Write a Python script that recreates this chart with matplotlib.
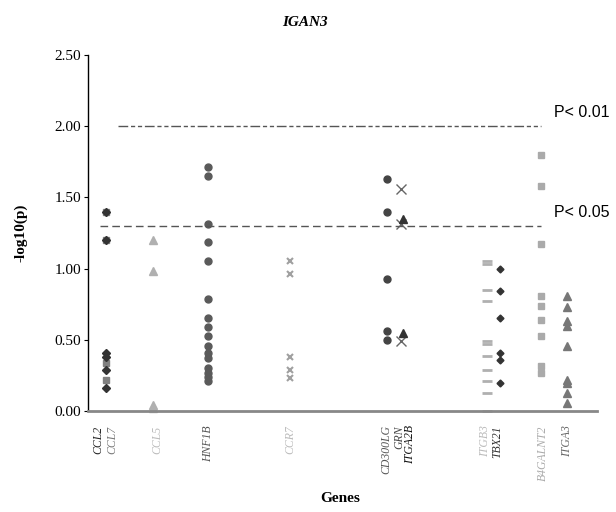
import matplotlib
matplotlib.use('Agg')
import matplotlib.pyplot as plt

# Gene labels along the x axis and their colours
genes = ['CCL2', 'CCL7', 'CCL5', 'HNF1B', 'CCR7', 'CD300LG', 'GRN', 'ITGA2B',
         'ITGB3', 'TBX21', 'B4GALNT2', 'ITGA3']
gene_colors = ['#222222', '#777777', '#bbbbbb', '#555555', '#bbbbbb', '#555555',
               '#444444', '#111111', '#bbbbbb', '#333333', '#aaaaaa', '#666666']

# -log10(p) values
ccl2 = [1.40, 1.20, 0.41, 0.38, 0.29, 0.16]
ccl7 = [1.40, 1.20, 0.34, 0.22]
ccl5 = [1.20, 0.98, 0.04, 0.02]
hnf1b = [1.71, 1.65, 1.31, 1.19, 1.05, 0.79, 0.65, 0.59, 0.53, 0.46, 0.41,
         0.37, 0.30, 0.27, 0.24, 0.21]
ccr7 = [1.05, 0.96, 0.38, 0.29, 0.23]
cd300lg = [1.63, 1.40, 0.93, 0.56, 0.50]
grn = [1.56, 1.31, 0.49]
itga2b = [1.35, 0.55]
itgb3 = [1.05, 1.03, 0.85, 0.77, 0.49, 0.47, 0.39, 0.29, 0.21, 0.13, 0.00]
tbx21 = [1.00, 0.84, 0.65, 0.41, 0.36, 0.20]
b4galnt2 = [1.80, 1.58, 1.17, 0.81, 0.74, 0.64, 0.53, 0.32, 0.27]
itga3 = [0.81, 0.73, 0.63, 0.60, 0.46, 0.22, 0.20, 0.13, 0.06]

# positions (axis units, 0 = left spine)
label_x = [10, 24, 69, 120, 202, 298, 311, 322, 397, 409, 455, 479]

fig = plt.figure(figsize=(6.16, 5.12), dpi=100)
ax = fig.add_axes([0.1429, 0.197, 0.826, 0.696])

def pts(x, vals, **kw):
    ax.plot([x] * len(vals), vals, linestyle='none', clip_on=False, **kw)

pts(18, ccl7, marker='s', color='#808080', markersize=4.5)
pts(18, ccl2, marker='D', color='#333333', markersize=4)
pts(65, ccl5, marker='^', color='#b0b0b0', markersize=5.5)
pts(120, hnf1b, marker='o', color='#5a5a5a', markersize=5)
pts(202, ccr7, marker='x', color='#a0a0a0', markersize=4.5, markeredgewidth=1.5)
pts(299, cd300lg, marker='o', color='#444444', markersize=5)
pts(313, grn, marker='x', color='#666666', markersize=7, markeredgewidth=1)
pts(315, itga2b, marker='^', color='#333333', markersize=5.5)
pts(399, itgb3, marker='_', color='#b0b0b0', markersize=7, markeredgewidth=2)
pts(412, tbx21, marker='D', color='#333333', markersize=3.5)
pts(453, b4galnt2, marker='s', color='#aaaaaa', markersize=4.5)
pts(479, itga3, marker='^', color='#777777', markersize=5.5)

# significance thresholds
ax.plot([30, 453], [2.0, 2.0], color='#555555',
        linestyle=(0, (7, 2, 3, 2, 3, 2)), linewidth=1)
ax.plot([12, 453], [1.30, 1.30], color='#555555', linestyle=(0, (5.5, 3)), linewidth=1)
ax.text(466, 2.04, 'P< 0.01', family='Liberation Sans', fontsize=11.5, va='bottom')
ax.text(466, 1.34, 'P< 0.05', family='Liberation Sans', fontsize=11.5, va='bottom')

ax.set_xlim(0, 509)
ax.set_ylim(0, 2.5)
ax.set_yticks([0, 0.5, 1.0, 1.5, 2.0, 2.5])
ax.set_yticklabels(['%.2f' % v for v in [0, 0.5, 1.0, 1.5, 2.0, 2.5]],
                   family='Liberation Serif', fontsize=11)
ax.tick_params(axis='y', length=3, width=0.8, pad=2)
ax.set_xticks([])

for sp in ['top', 'right']:
    ax.spines[sp].set_visible(False)
ax.spines['left'].set_linewidth(1)
ax.spines['bottom'].set_color('#888888')
ax.spines['bottom'].set_linewidth(2)

for name, x, c in zip(genes, label_x, gene_colors):
    ax.text(x, -0.1, name, rotation=90, ha='center', va='top', style='italic',
            family='Liberation Serif', fontsize=8.5, color=c)

fig.text(0.495, 0.957, 'IGAN3', family='Liberation Serif', style='italic',
         weight='bold', fontsize=11, ha='center', va='center')
fig.text(0.033, 0.545, '-log10(p)', family='Liberation Serif', weight='bold',
         fontsize=11, rotation=90, ha='center', va='center')
fig.text(0.552, 0.027, 'Genes', family='Liberation Serif', weight='bold',
         fontsize=11, ha='center', va='center')

fig.savefig('out.png', dpi=100)
